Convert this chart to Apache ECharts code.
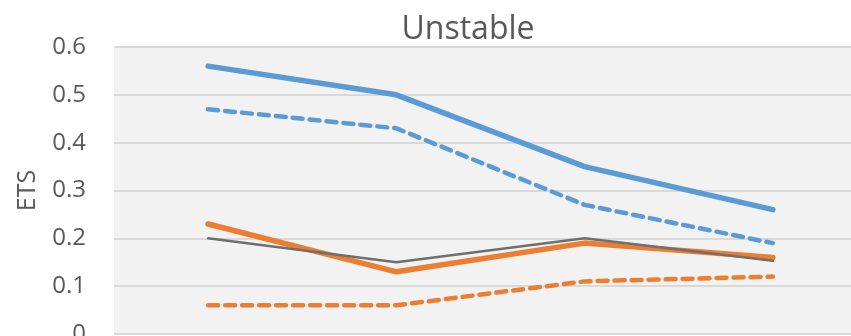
<!DOCTYPE html>
<html>
<head>
<meta charset="utf-8">
<script src="https://cdn.jsdelivr.net/npm/echarts@6/dist/echarts.min.js"></script>
<style>html,body{margin:0;padding:0;background:#fff;}#c{width:851px;height:336px;}</style>
</head>
<body>
<div id="c"></div>
<script>
const categories = ['1', '2', '3', '4'];
const blueSolid = [0.56, 0.50, 0.35, 0.26];
const blueDashed = [0.47, 0.43, 0.27, 0.19];
const orangeSolid = [0.23, 0.13, 0.19, 0.16];
const orangeDashed = [0.06, 0.06, 0.11, 0.12];
const greySolid = [0.20, 0.15, 0.20, 0.153];
const yTicks = [0, 0.1, 0.2, 0.3, 0.4, 0.5, 0.6];

const chart = echarts.init(document.getElementById('c'), null, {renderer: 'canvas'});
const font = 'Open Sans';
function line(data, color, width, dashed) {
  return {
    type: 'line', data: data, symbol: 'none', smooth: false, animation: false,
    lineStyle: {color: color, width: width, type: dashed ? [10, 7] : 'solid', cap: 'round', join: 'round'}
  };
}
chart.setOption({
  animation: false,
  title: {
    text: 'Unstable', left: 463, top: 9, textAlign: 'center',
    textStyle: {fontFamily: font, fontSize: 32, fontWeight: 'normal', color: '#595959'}
  },
  grid: {left: 114, top: 47, width: 753, bottom: 2, show: true, backgroundColor: '#f2f2f2', borderWidth: 0,
    containLabel: false, outerBoundsMode: 'none'},
  xAxis: {
    type: 'category', data: categories, boundaryGap: true,
    axisLine: {show: false}, axisTick: {show: false}, axisLabel: {show: false}, splitLine: {show: false}
  },
  yAxis: {
    type: 'value', min: yTicks[0], max: yTicks[yTicks.length - 1], interval: 0.1,
    name: 'ETS', nameLocation: 'middle', nameGap: 74, nameRotate: 90,
    nameTextStyle: {fontFamily: font, fontSize: 25, color: '#595959'},
    axisLine: {show: false}, axisTick: {show: false},
    axisLabel: {fontFamily: font, fontSize: 24, color: '#595959', margin: 28,
      formatter: v => { const t = yTicks.find(x => Math.abs(x - v) < 1e-9); return t === 0 ? '0' : String(t); }},
    splitLine: {lineStyle: {color: '#d9d9d9', width: 2}}
  },
  series: [
    line(blueSolid, '#5b9bd5', 5.5, false),
    line(blueDashed, '#5b9bd5', 4.5, true),
    line(orangeSolid, '#ed7d31', 5.5, false),
    line(orangeDashed, '#ed7d31', 4.5, true),
    line(greySolid, '#6f6f6f', 2.5, false)
  ]
});
</script>
</body>
</html>
